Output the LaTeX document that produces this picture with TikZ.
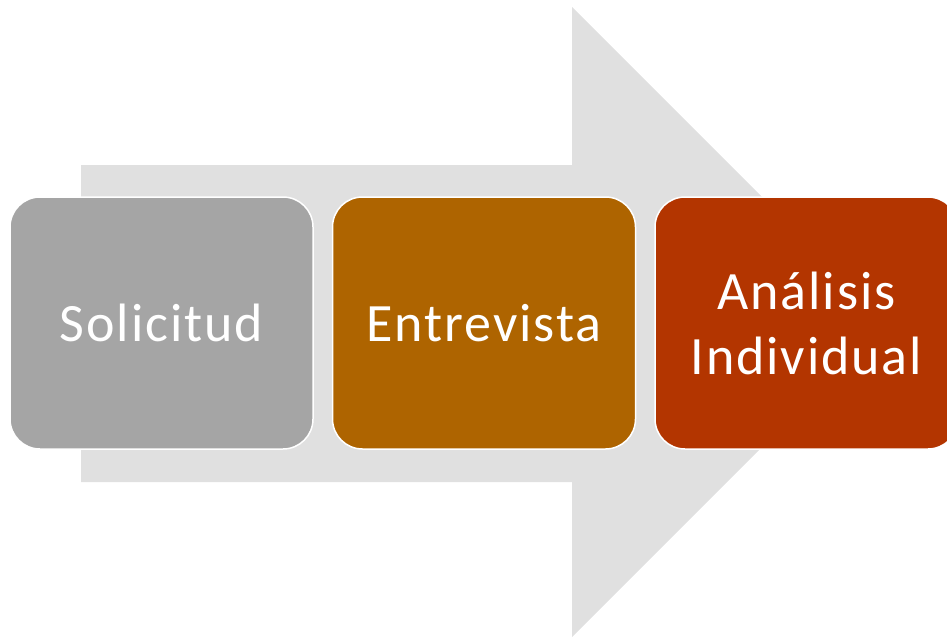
\documentclass[tikz,border=0pt]{standalone}
\usepackage{fontspec}
\setmainfont{Carlito}[LetterSpace=3.5]
\definecolor{arrowgray}{HTML}{E0E0E0}
\definecolor{boxgray}{HTML}{A5A5A5}
\definecolor{boxorange}{HTML}{AE6400}
\definecolor{boxred}{HTML}{B33500}
\begin{document}
\begin{tikzpicture}[x=1pt,y=-1pt,
  stepbox/.style={draw=white,line width=1.5pt,rounded corners=30pt,minimum width=303pt,minimum height=252pt,inner sep=0pt,text=white,align=center,font=\fontsize{54}{65}\selectfont}]
\useasboundingbox (0,0) rectangle (947,638);
\clip (0,0) rectangle (947,638);
\fill[arrowgray] (81,165) -- (572,165) -- (572,7) -- (887,322) -- (572,637) -- (572,482) -- (81,482) -- cycle;
\node[stepbox,fill=boxgray] (s1) at (161.5,323) {Solicitud};
\node[stepbox,fill=boxorange] (s2) at (484,323) {Entrevista};
\node[stepbox,fill=boxred] (s3) at (806.5,323) {Análisis\\Individual};
\end{tikzpicture}
\end{document}
